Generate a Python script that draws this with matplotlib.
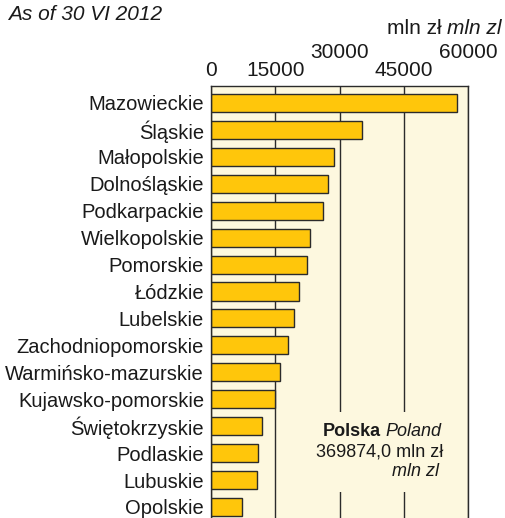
import numpy as np
import matplotlib.pyplot as plt
from matplotlib.patches import Rectangle

plt.rcParams['font.family'] = ['Liberation Sans', 'DejaVu Sans']

# Dane - województwa (mln zł), stan na 30 VI 2012
regions = ["Mazowieckie", "Śląskie", "Małopolskie", "Dolnośląskie", "Podkarpackie",
           "Wielkopolskie", "Pomorskie", "Łódzkie", "Lubelskie", "Zachodniopomorskie",
           "Warmińsko-mazurskie", "Kujawsko-pomorskie", "Świętokrzyskie", "Podlaskie",
           "Lubuskie", "Opolskie"]
values = [57500, 35300, 28800, 27400, 26200, 23100, 22300, 20600, 19450, 18050,
          16050, 14870, 12000, 10900, 10700, 7200]
ticks_low = [0, 15000, 45000]
ticks_high = [30000, 60000]

bg = "#fdf8df"
bar_col = "#ffc60b"
dark = "#2b2b2b"
txt = "#1a1a1a"
fs = 15

W, H = 506, 518
fig = plt.figure(figsize=(W / 100, H / 100), dpi=100)
ax = fig.add_axes([211 / W, 0, 257 / W, 1 - 86 / H])
ax.set_facecolor(bg)

y = np.arange(len(regions))
ax.barh(y, values, height=0.67, color=bar_col, edgecolor=dark, linewidth=1, zorder=2)
ax.set_ylim(len(regions) - 1 + 0.41, -0.63)
ax.set_xlim(0, 60000)

ax.set_yticks(y)
ax.set_yticklabels(regions, fontsize=14.5, color=txt)
ax.tick_params(axis='y', length=0, pad=5)

# Osie - etykiety naprzemiennie na górze
ax.xaxis.tick_top()
ax.set_xticks(ticks_low)
ax.set_xticks(ticks_high, minor=True)
ax.set_xticklabels([str(t) for t in ticks_low], fontsize=fs, color=txt)
ax.set_xticklabels([str(t) for t in ticks_high], minor=True, fontsize=fs, color=txt)
ax.tick_params(axis='x', which='major', length=0, pad=4)
ax.tick_params(axis='x', which='minor', length=0, pad=17)
ax.xaxis.grid(True, which='both', color=dark, linewidth=1)
ax.set_axisbelow(True)

for s in ["left", "top", "right"]:
    ax.spines[s].set_color(dark)
    ax.spines[s].set_linewidth(1)
ax.spines["bottom"].set_visible(False)

# Ramka z sumą
ax.add_patch(Rectangle((0.38, 0.06), 0.56, 0.185, transform=ax.transAxes,
                       facecolor=bg, edgecolor='none', zorder=1))
t1 = fig.text(323 / W, 1 - 432 / H, "Polska", fontsize=13, fontweight='bold',
              ha='left', va='center', color=txt)
ax.annotate("Poland", xy=(1, 0.5), xycoords=t1, xytext=(3, 0), textcoords='offset points',
            fontsize=13, style='italic', ha='left', va='center', color=txt)
fig.text(443 / W, 1 - 452 / H, "369874,0 mln zł", fontsize=13, ha='right', va='center',
         color=txt)
fig.text(439 / W, 1 - 472 / H, "mln zl", fontsize=13, style='italic', ha='right',
         va='center', color=txt)

# Titres
fig.text(8 / W, 1 - 15 / H, "As of 30 VI 2012", fontsize=fs, style='italic',
         ha='left', va='center', color=txt)
t2 = fig.text(502 / W, 1 - 28 / H, "mln zl", fontsize=fs, style='italic',
              ha='right', va='center', color=txt)
ax.annotate("mln zł", xy=(0, 0.5), xycoords=t2, xytext=(-4, 0), textcoords='offset points',
            fontsize=fs, ha='right', va='center', color=txt)

fig.savefig("out.png", dpi=100)
